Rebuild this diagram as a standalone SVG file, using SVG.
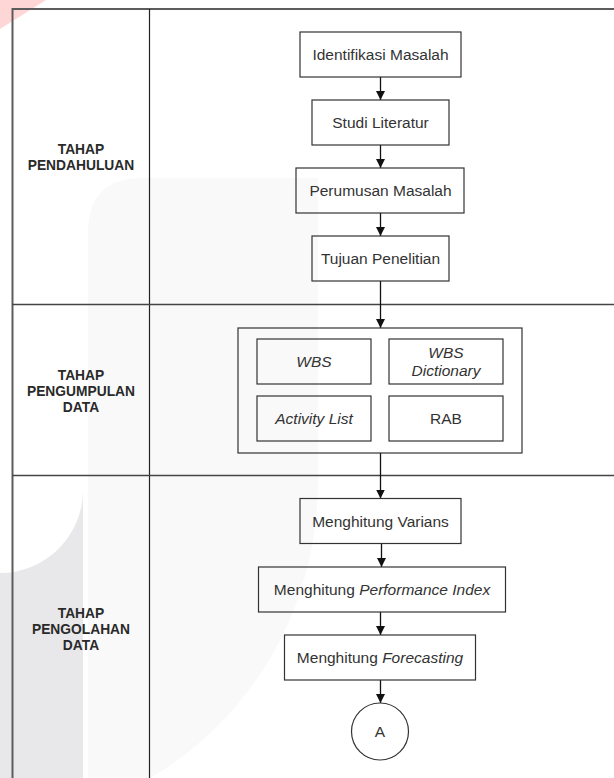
<svg xmlns="http://www.w3.org/2000/svg" width="614" height="778" viewBox="0 0 614 778">
<style>
.box{fill:none;stroke:#333;stroke-width:1.2}
.txt{font-family:"Liberation Sans",Arial,sans-serif;font-size:15.5px;fill:#333;text-anchor:middle}
.lane{font-family:"Liberation Sans",Arial,sans-serif;font-size:13.8px;font-weight:bold;fill:#2a2a2a;text-anchor:middle}
.con{stroke:#111;stroke-width:1.3;fill:none;marker-end:url(#ah)}
.it{font-style:italic}
</style>
<defs>
<marker id="ah" viewBox="0 0 10 10" refX="10" refY="5" markerWidth="9" markerHeight="9" markerUnits="userSpaceOnUse" orient="auto">
<path d="M0,0 L10,5 L0,10 Z" fill="#111"/>
</marker>
</defs>
<rect width="614" height="778" fill="#fff"/>
<g id="watermark">
<polygon points="0,0 46,0 0,29" fill="#ffd6d6"/>
<path d="M88,778 L88,233 Q88,178 143,178 L318,178 L318,480 C318,610 250,720 150,778 Z" fill="#f9f9f9"/>
<path d="M0,573 A83,83 0 0 0 83,490 L83,778 L0,778 Z" fill="#e8e8ea"/>
</g>
<g id="pool">
<line x1="12.5" y1="9" x2="614" y2="9" stroke="#5c5c5c" stroke-width="2"/>
<line x1="12.5" y1="8" x2="12.5" y2="778" stroke="#5c5c5c" stroke-width="2"/>
<line x1="149.5" y1="9" x2="149.5" y2="778" stroke="#222" stroke-width="1.2"/>
<line x1="12.5" y1="304.5" x2="614" y2="304.5" stroke="#444" stroke-width="1.5"/>
<line x1="12.5" y1="475.5" x2="614" y2="475.5" stroke="#444" stroke-width="1.5"/>
</g>
<g id="lane1"><text class="lane" x="81" y="154">TAHAP<tspan x="81" dy="16">PENDAHULUAN</tspan></text></g>
<g id="lane2"><text class="lane" x="81" y="380">TAHAP<tspan x="81" dy="16">PENGUMPULAN</tspan><tspan x="81" dy="16">DATA</tspan></text></g>
<g id="lane3"><text class="lane" x="81" y="618">TAHAP<tspan x="81" dy="16">PENGOLAHAN</tspan><tspan x="81" dy="16">DATA</tspan></text></g>
<g id="connectors">
<line class="con" x1="380.5" y1="77" x2="380.5" y2="100"/>
<line class="con" x1="380.5" y1="145" x2="380.5" y2="168"/>
<line class="con" x1="380.5" y1="213" x2="380.5" y2="236"/>
<line class="con" x1="380.5" y1="281" x2="380.5" y2="328"/>
<line class="con" x1="380.5" y1="453" x2="380.5" y2="498.5"/>
<line class="con" x1="381.5" y1="543.5" x2="381.5" y2="567"/>
<line class="con" x1="380.5" y1="612" x2="380.5" y2="635"/>
<line class="con" x1="380.5" y1="680" x2="380.5" y2="703"/>
</g>
<g id="n1"><rect class="box" x="300" y="32" width="161" height="45"/><text class="txt" x="380.5" y="60">Identifikasi Masalah</text></g>
<g id="n2"><rect class="box" x="312" y="100" width="137" height="45"/><text class="txt" x="380.5" y="128">Studi Literatur</text></g>
<g id="n3"><rect class="box" x="296" y="168" width="168" height="45"/><text class="txt" x="380.5" y="196">Perumusan Masalah</text></g>
<g id="n4"><rect class="box" x="312" y="236" width="137" height="45"/><text class="txt" x="380.5" y="264">Tujuan Penelitian</text></g>
<g id="group"><rect class="box" x="238" y="328" width="284" height="125"/></g>
<g id="wbs"><rect class="box" x="257" y="339" width="114" height="45"/><text class="txt it" x="314" y="367">WBS</text></g>
<g id="dict"><rect class="box" x="389" y="339" width="114" height="45"/><text class="txt it" x="446" y="358">WBS<tspan x="446" dy="18.4">Dictionary</tspan></text></g>
<g id="act"><rect class="box" x="257" y="396" width="114" height="45"/><text class="txt it" x="314" y="424">Activity List</text></g>
<g id="rab"><rect class="box" x="389" y="396" width="114" height="45"/><text class="txt" x="446" y="424">RAB</text></g>
<g id="n5"><rect class="box" x="300" y="498.5" width="161" height="45"/><text class="txt" x="380.5" y="526.5">Menghitung Varians</text></g>
<g id="n6"><rect class="box" x="258.5" y="567" width="247" height="45"/><text class="txt" x="382" y="595">Menghitung <tspan class="it">Performance Index</tspan></text></g>
<g id="n7"><rect class="box" x="284.5" y="635" width="191" height="45"/><text class="txt" x="380" y="663">Menghitung <tspan class="it">Forecasting</tspan></text></g>
<g id="nA"><circle class="box" cx="380" cy="731.5" r="28.5"/><text class="txt" x="380" y="737">A</text></g>
</svg>
